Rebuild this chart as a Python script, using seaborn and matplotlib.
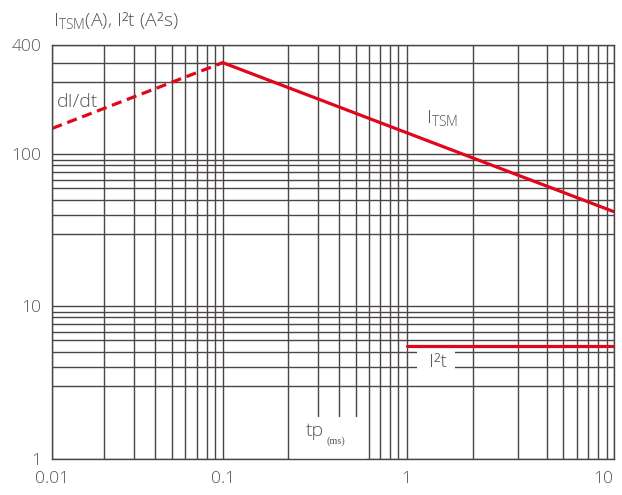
import matplotlib
matplotlib.use("Agg")
import matplotlib.pyplot as plt
import matplotlib.patches as mpatches
from matplotlib.ticker import NullFormatter
import numpy as np
import seaborn as sns

# pulse width tp (ms) against surge current / I2t
didt_tp = [0.01, 0.1]
didt_amps = [148, 400]
itsm_tp = [0.1, 10]
itsm_amps = [400, 42]
i2t_tp = [1, 10]
i2t_vals = [5.5, 5.5]

x_ticks = [0.01, 0.1, 1, 10]
x_tick_labels = ["0.01", "0.1", "1", "10"]
y_ticks = [1, 10, 100, 520]
y_tick_labels = ["1", "10", "100", "400"]

RED = "#e2061b"
GRID = "#4b4545"
TEXT = "#555555"

# the original sheet is hand drawn: the time decades are not equally wide,
# so every grid value is pinned to where it sits on the original
grid_vals = np.array([m * 10.0 ** d for d in (-2, -1, 0) for m in range(1, 10)] + [10.0])
grid_px = np.array([52.3, 104, 134, 155.3, 171.7, 185, 196.7, 206.7, 215.3,
                    222.7, 287.7, 317.7, 339, 355.7, 369, 380, 390, 398.3,
                    406.7, 473, 518.3, 547, 563.3, 576.7, 588.3, 598.3, 606.7,
                    613.7])
log_nodes = np.concatenate([[-8], np.log10(grid_vals), [7]])
px_nodes = np.concatenate([[52.3 - 6 * 170.4], grid_px, [613.7 + 6 * 207]])


def fwd(x):
    x = np.clip(np.asarray(x, dtype=float), 1e-8, None)
    return np.interp(np.log10(x), log_nodes, px_nodes)


def inv(p):
    return 10 ** np.interp(np.asarray(p, dtype=float), px_nodes, log_nodes)


x_minor = [v for v in grid_vals if v not in x_ticks]
y_minor = [m * 10 ** d for d in (0, 1) for m in (3, 4, 5, 6, 6.8, 7.7, 8.5, 9.2)] + [300, 400]

sns.set_style("white")
plt.rcParams['font.family'] = ['Open Sans', 'DejaVu Sans']
plt.rcParams['font.weight'] = 'light'
plt.rcParams['mathtext.default'] = 'regular'

fig = plt.figure(figsize=(6.22, 4.95), dpi=100)
ax = fig.add_axes([0.0841, 0.0733, 0.9026, 0.8352])
ax.set_xscale('function', functions=(fwd, inv))
ax.set_yscale('log')

sns.lineplot(x=didt_tp, y=didt_amps, ax=ax, color=RED, lw=2.3, linestyle=(0, (3.2, 1.8)))
sns.lineplot(x=itsm_tp, y=itsm_amps, ax=ax, color=RED, lw=2.3)
sns.lineplot(x=i2t_tp, y=i2t_vals, ax=ax, color=RED, lw=2.3)

ax.set_xlim(0.01, 10)
ax.set_ylim(1, 520)
ax.set_xticks(x_ticks, x_tick_labels)
ax.set_xticks(x_minor, minor=True)
ax.set_yticks(y_ticks, y_tick_labels)
ax.set_yticks(y_minor, minor=True)
ax.xaxis.set_minor_formatter(NullFormatter())
ax.yaxis.set_minor_formatter(NullFormatter())
ax.set_xlabel("")
ax.set_ylabel("")

ax.set_axisbelow(True)
ax.grid(True, which='both', color=GRID, lw=1.0)
ax.tick_params(which='both', length=0, labelsize=12.5, labelcolor=TEXT)
ax.tick_params(axis='x', pad=9)
ax.tick_params(axis='y', pad=8)
for sp in ax.spines.values():
    sp.set_visible(True)
    sp.set_color(GRID)
    sp.set_linewidth(1.0)

# last time label sits flush against the right edge on the original
ax.get_xticklabels()[-1].set_horizontalalignment('right')

# white patches behind the in-plot labels, as on the original
ax.add_patch(mpatches.Rectangle((0.649, 0.205), 0.068, 0.063, transform=ax.transAxes,
                                fc='white', ec='none', zorder=1))
ax.add_patch(mpatches.Rectangle((0.4235, 0.0), 0.137, 0.101, transform=ax.transAxes,
                                fc='white', ec='none', zorder=1))

ax.text(0.008, 0.851, "dI/dt", transform=ax.transAxes, fontsize=14, color=TEXT,
        ha='left', va='baseline')
ax.text(0.6657, 0.812, "I$_{TSM}$", transform=ax.transAxes, fontsize=14, color=TEXT,
        ha='left', va='baseline')
ax.text(0.687, 0.234, "I²t", transform=ax.transAxes, fontsize=14, color=TEXT,
        ha='center', va='center')
ax.text(0.452, 0.055, "tp", transform=ax.transAxes, fontsize=14, color=TEXT,
        ha='left', va='baseline')
ax.text(0.4875, 0.036, "(ms)", transform=ax.transAxes, fontsize=7.5, color=TEXT,
        ha='left', va='baseline', family='Liberation Serif')

fig.text(53 / 622, 1 - 26 / 495, "I$_{TSM}$(A), I²t (A²s)", fontsize=14, color=TEXT,
         ha='left', va='baseline')

fig.savefig("out.png", dpi=100)
